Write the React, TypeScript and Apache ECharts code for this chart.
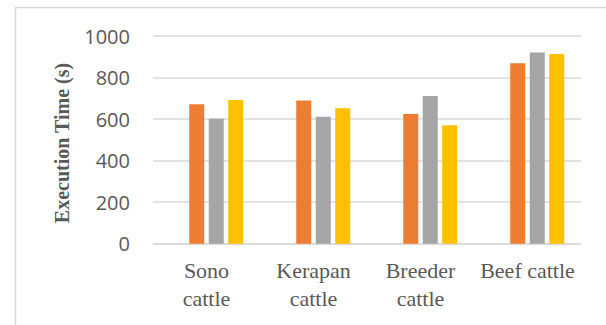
import React, { useEffect, useRef } from "react";
import * as echarts from "echarts";

const categories = ["Sono\ncattle", "Kerapan\ncattle", "Breeder\ncattle", "Beef cattle"];
const seriesNames = ["Series1", "Series2", "Series3", "Series4"];
// Series1 has no values in the reference (empty slot before the orange bars)
const series1: (number | null)[] = [null, null, null, null];
const series2 = [671, 689, 624, 869];
const series3 = [602, 611, 711, 920];
const series4 = [692, 652, 570, 913];
const colors = ["#4472C4", "#ED7D31", "#A5A5A5", "#FFC000"];
const yMin = 0;
const yMax = 1000;
const yInterval = 200;

export default function App() {
  const ref = useRef<HTMLDivElement>(null);
  useEffect(() => {
    if (!ref.current) return;
    const chart = echarts.init(ref.current, null, { renderer: "svg" });
    const data = [series1, series2, series3, series4];
    chart.setOption({
      animation: false,
      backgroundColor: "#ffffff",
      grid: { left: 153, right: 25, top: 36, bottom: 81.3, containLabel: false },
      xAxis: {
        type: "category",
        data: categories,
        axisLine: { show: true, lineStyle: { color: "#D9D9D9", width: 1.5 } },
        axisTick: { show: false },
        axisLabel: {
          interval: 0,
          margin: 13,
          color: "#595959",
          fontFamily: "Liberation Serif",
          fontSize: 22,
          lineHeight: 28,
        },
      },
      yAxis: {
        type: "value",
        min: yMin,
        max: yMax,
        interval: yInterval,
        axisLine: { show: false },
        axisTick: { show: false },
        splitLine: { lineStyle: { color: "#D9D9D9", width: 1.5 } },
        axisLabel: {
          margin: 23,
          color: "#595959",
          fontFamily: "Open Sans",
          fontSize: 20,
          formatter: (v: number) => String(v),
        },
      },
      graphic: [
        {
          type: "rect",
          shape: { x: 15.5, y: 7.5, width: 700, height: 400 },
          style: { fill: "none", stroke: "#D9D9D9", lineWidth: 1.5 },
          silent: true,
        },
        {
          type: "text",
          x: 62,
          y: 143,
          rotation: Math.PI / 2,
          style: {
            text: "Execution Time (s)",
            font: "bold 20px 'Liberation Serif'",
            fill: "#595959",
            align: "center",
            verticalAlign: "middle",
          },
        },
      ],
      series: data.map((d, i) => ({
        name: seriesNames[i],
        type: "bar",
        data: d,
        barWidth: 15,
        barGap: "30%",
        itemStyle: { color: colors[i] },
      })),
    });
    return () => chart.dispose();
  }, []);
  return (
    <div
      ref={ref}
      style={{ position: "fixed", left: 0, top: 0, width: 606, height: 325 }}
    />
  );
}
